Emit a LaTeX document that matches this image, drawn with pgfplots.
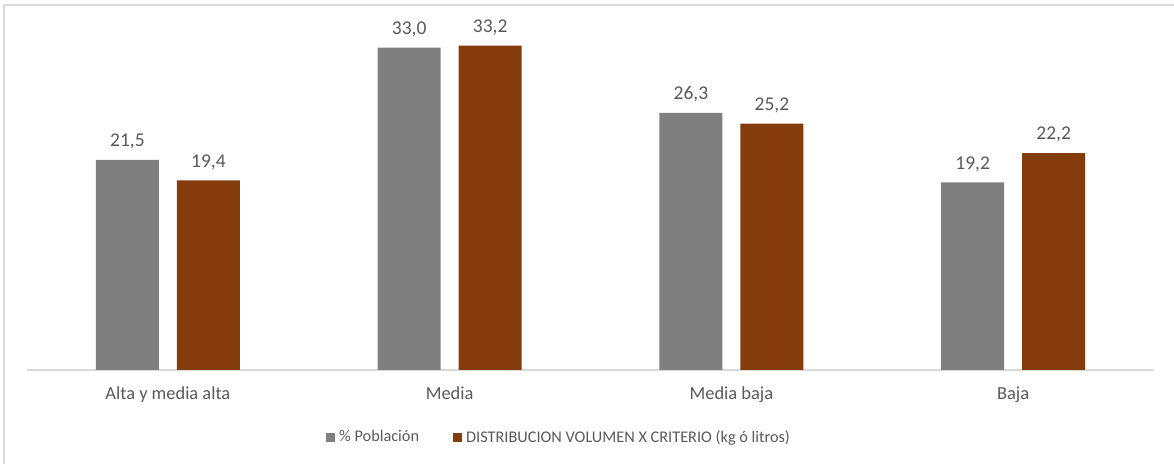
\documentclass[border=0pt]{standalone}
\usepackage{fontspec}
\setmainfont{Carlito}
\usepackage{pgfplots}
\pgfplotsset{compat=1.18}
\definecolor{bargray}{HTML}{7F7F7F}
\definecolor{barbrown}{HTML}{843C0C}
\definecolor{txt}{HTML}{595959}
\definecolor{frame}{HTML}{D9D9D9}
\begin{document}
\begin{tikzpicture}[x=1bp,y=1bp]
\useasboundingbox (0,0) rectangle (1174,464);
\draw[frame, line width=2bp] (4,0) -- (4,459) -- (1174,459);
\begin{axis}[
  at={(27bp,94bp)}, anchor=south west,
  scale only axis,
  width=1127bp, height=342bp,
  ybar=18bp, bar width=63bp,
  xmin=-0.5, xmax=3.5, ymin=0, ymax=35,
  axis x line*=bottom, axis y line=none,
  x axis line style={draw=frame, line width=1.3bp},
  xtick=data,
  xticklabels={Alta y media alta, Media, Media baja, Baja},
  major tick length=0pt,
  xticklabel style={font=\fontsize{18.4bp}{22bp}\selectfont, text=txt, yshift=-13bp},
  clip=false,
  nodes near coords,
  every node near coord/.append style={font=\fontsize{19.5bp}{23bp}\selectfont, text=txt, anchor=south, inner sep=0pt, text depth=0pt, yshift=13bp},
  /pgf/number format/.cd, use comma, fixed, fixed zerofill, precision=1, assume math mode=true,
  /pgfplots/.cd,
  legend style={at={(0.473,-0.196)}, anchor=center, draw=none, fill=none,
    legend columns=2, font=\fontsize{16.3bp}{19bp}\selectfont, text=txt,
    /tikz/every even column/.append style={column sep=30bp},
    nodes={inner xsep=4bp}},
  legend cell align=left,
  legend image code/.code={\fill[#1] (0bp,-4.5bp) rectangle (9bp,4.5bp);},
]
\addplot[draw=none, fill=bargray] coordinates {(0,21.5) (1,33.0) (2,26.3) (3,19.2)};
\addplot[draw=none, fill=barbrown] coordinates {(0,19.4) (1,33.2) (2,25.2) (3,22.2)};
\legend{\% Población, DISTRIBUCION VOLUMEN X CRITERIO (kg ó litros)}
\end{axis}
\end{tikzpicture}
\end{document}
